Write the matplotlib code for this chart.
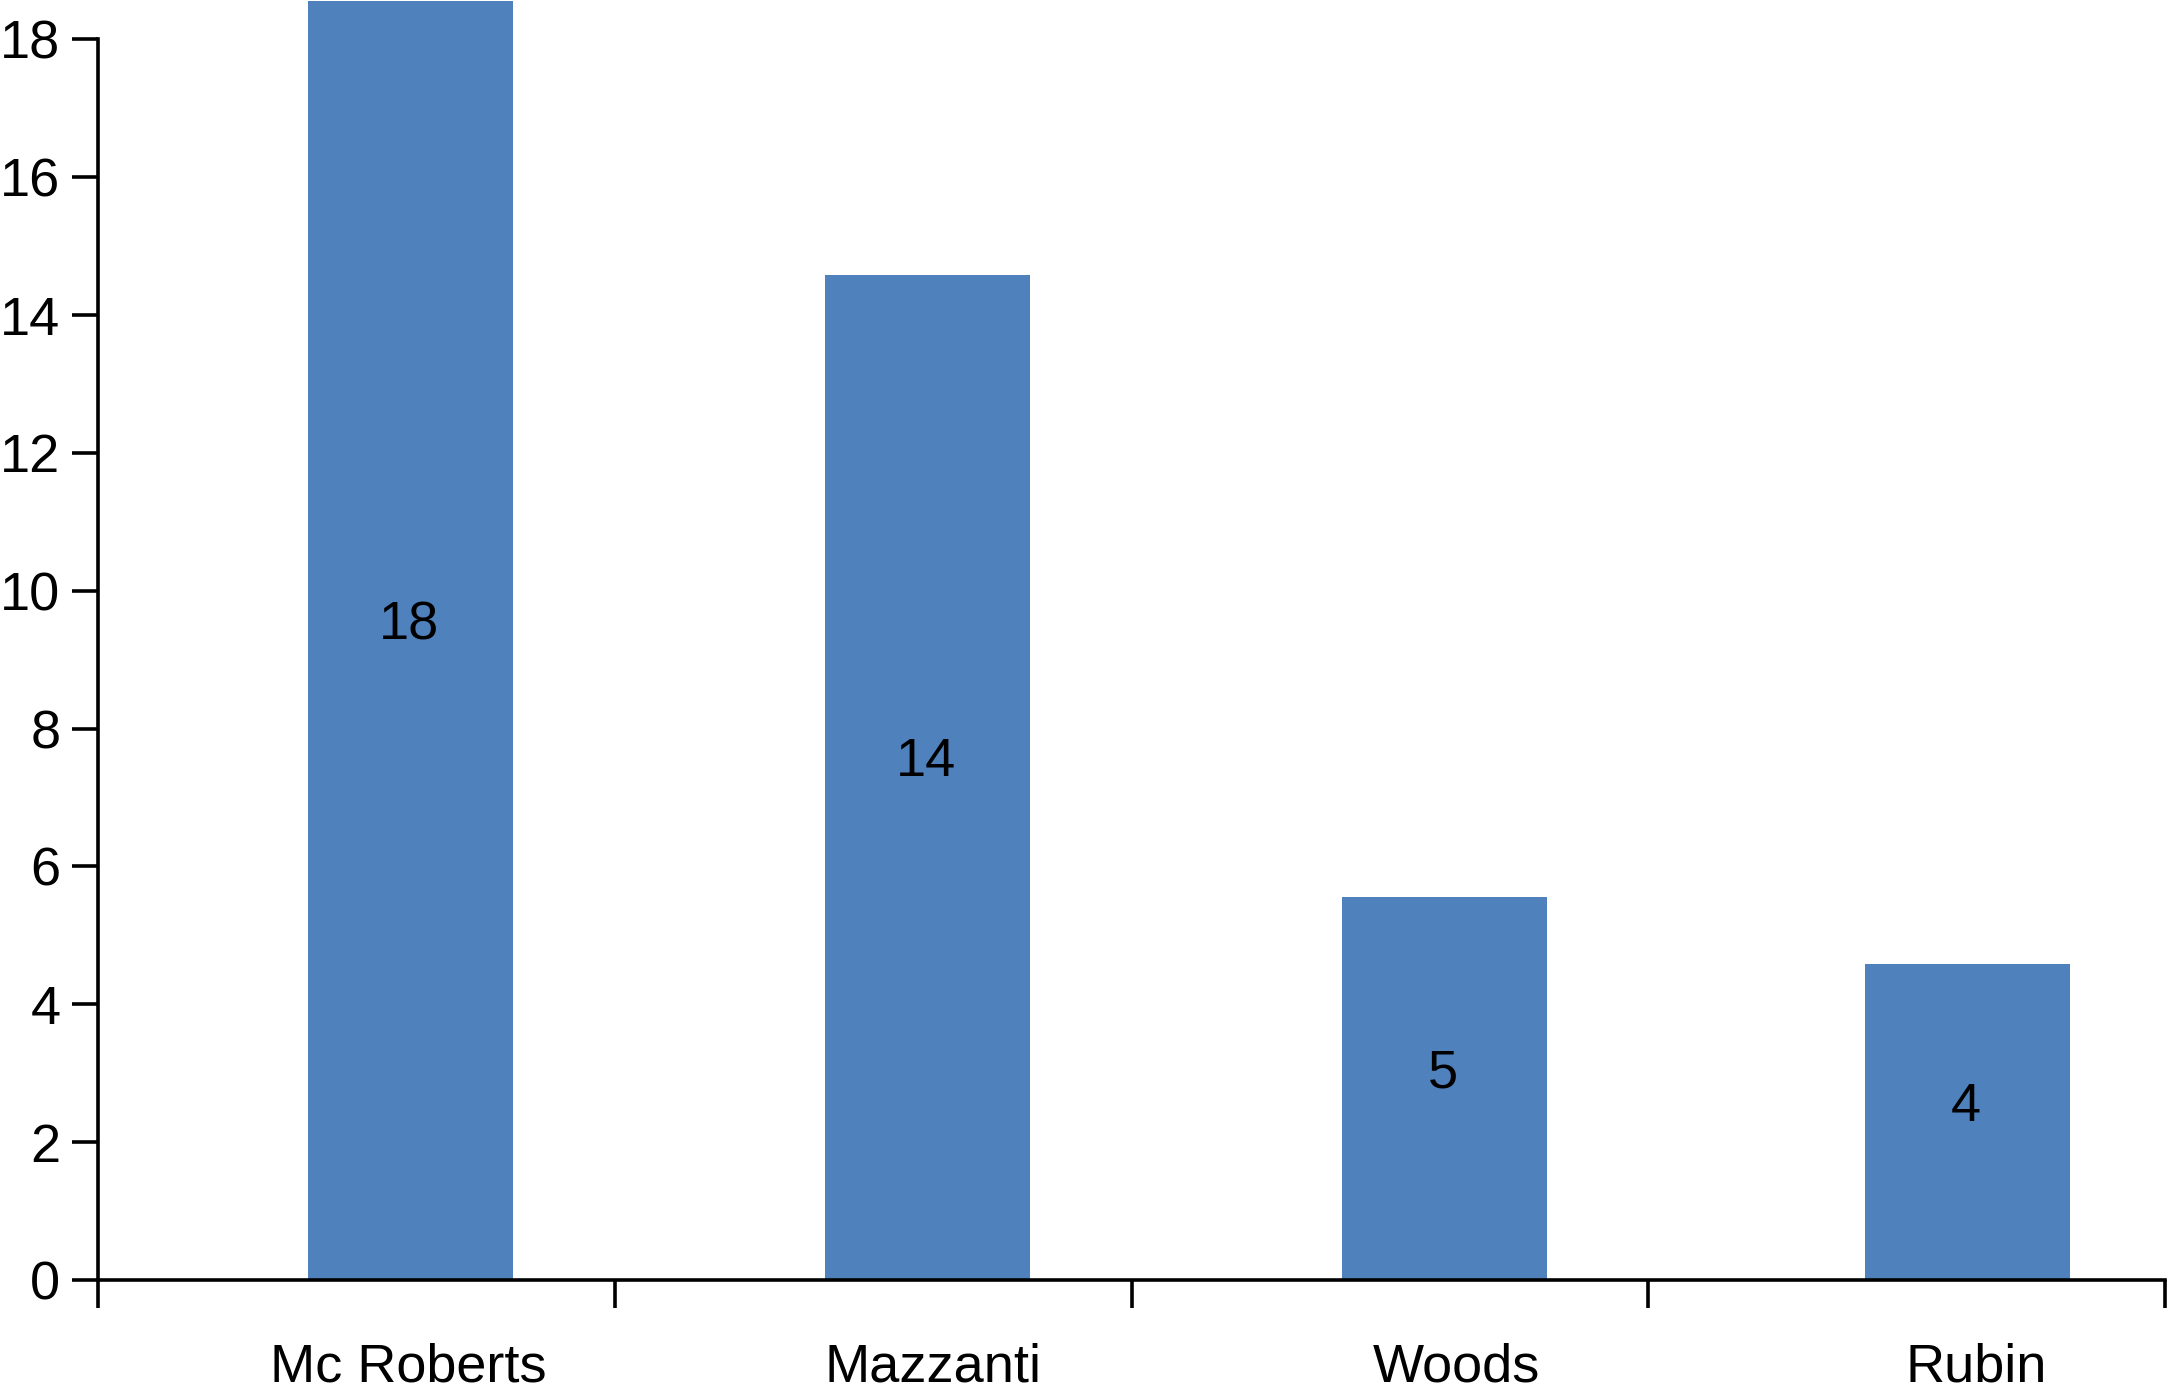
import matplotlib
matplotlib.use("Agg")
import matplotlib.pyplot as plt
from matplotlib.ticker import FixedLocator, NullFormatter

plt.rcParams['font.family'] = ['Liberation Sans', 'DejaVu Sans']

categories = ["Mc Roberts", "Mazzanti", "Woods", "Rubin"]
values = [18.55, 14.58, 5.55, 4.59]
bar_labels = ["18", "14", "5", "4"]
yticks = [0, 2, 4, 6, 8, 10, 12, 14, 16, 18]

BLUE = "#4F81BD"
FS = 39

fig = plt.figure(figsize=(21.68, 13.95), dpi=100)
ax = fig.add_axes([98 / 2168, 115 / 1395, (2165 - 98) / 2168, 1280 / 1395])

bar_offsets = [0.605, 0.605, 0.605, 0.618]
label_offsets = [0.6, 0.615, 0.628, 0.634]
pos = [i + o for i, o in enumerate(bar_offsets)]
bars = ax.bar(pos, values, width=0.397, color=BLUE, zorder=2)

for b, lab in zip(bars, bar_labels):
    ax.annotate(lab, (b.get_x() + b.get_width() / 2, b.get_height() / 2),
                xytext=(-1, 11), textcoords="offset points",
                ha="center", va="center", fontsize=FS, color="black")

ax.set_xlim(0, len(categories))
ax.set_ylim(0, 18.57)

for s in ["top", "right"]:
    ax.spines[s].set_visible(False)
ax.spines["left"].set_bounds(0, 18)
ax.spines["left"].set_linewidth(2.6)
ax.spines["bottom"].set_linewidth(2.6)
ax.spines["bottom"].set_zorder(3)

ax.set_yticks(yticks)
ax.set_yticklabels([str(t) for t in yticks])
ax.tick_params(axis="y", direction="out", length=19, width=2.6, pad=8,
               labelsize=FS)

ax.xaxis.set_major_locator(FixedLocator(range(len(categories) + 1)))
ax.xaxis.set_major_formatter(NullFormatter())
ax.tick_params(axis="x", which="major", direction="out", length=20, width=2.6)

ax.xaxis.set_minor_locator(FixedLocator([i + o for i, o in enumerate(label_offsets)]))
ax.set_xticklabels(categories, minor=True)
ax.tick_params(axis="x", which="minor", length=0, pad=45, labelsize=FS)

for spine in ax.spines.values():
    spine.set_clip_on(False)

fig.savefig("out.png", dpi=100, facecolor="white")
